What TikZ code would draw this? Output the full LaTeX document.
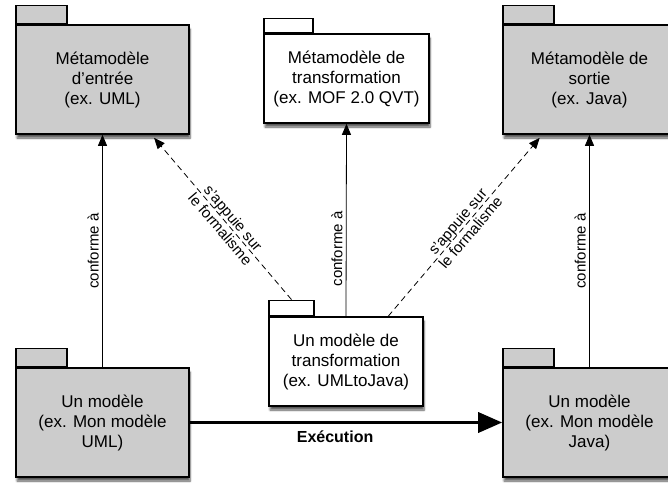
\documentclass[tikz,border=0pt]{standalone}
\usepackage{fontspec}
\setmainfont{Liberation Sans}
\usetikzlibrary{arrows.meta,shadows.blur}

\begin{document}
\begin{tikzpicture}[x=1pt, y=-1pt,
      pkg/.style={draw, line width=1.6pt, fill=black!20, align=center,
        minimum width=173pt, minimum height=109pt, inner sep=0pt,
        font=\fontsize{17}{20}\selectfont,
        blur shadow={shadow xshift=1pt, shadow yshift=-4pt,
          shadow blur steps=6, shadow opacity=65}},
      pkgwhite/.style={pkg, fill=white},
      tab/.style={draw, line width=1.6pt, anchor=south west, inner sep=0pt,
        minimum width=51pt, minimum height=18pt, fill=black!20},
      conf/.style={-{Triangle[length=11pt,width=9pt]}, line width=0.8pt},
      relie/.style={conf, dash pattern=on 6pt off 4pt},
      lbl/.style={font=\fontsize{15}{17}\selectfont, sloped, align=center},
      exec/.style={-{Triangle[length=24pt,width=20pt]}, line width=3.5pt}]
  \clip (0,0) rectangle (668,482);
  \node [pkg] (mmin) at (102.5,79.5) {Métamodèle\\d'entrée\\(ex. UML)};
  \node [pkgwhite, minimum width=165pt, minimum height=89pt] (mmtr) at (346.5,78.5)
        {Métamodèle de\\transformation\\(ex. MOF 2.0 QVT)};
  \node [pkg] (mmout) at (589.5,79.5) {Métamodèle de\\sortie\\(ex. Java)};
  \node [pkgwhite, minimum width=154pt, minimum height=89pt] (mtr) at (346,361.5)
        {Un modèle de\\transformation\\(ex. UMLtoJava)};
  \node [pkg] (min) at (102.5,422.5) {Un modèle\\(ex. Mon modèle\\UML)};
  \node [pkg] (mout) at (589.5,422.5) {Un modèle\\(ex. Mon modèle\\Java)};
  \node [tab] (mminT) at (mmin.north west) {};
  \node [tab, fill=white, minimum width=49pt, minimum height=14pt] (mmtrT) at (mmtr.north west) {};
  \node [tab] (mmoutT) at (mmout.north west) {};
  \node [tab, fill=white, minimum width=45pt, minimum height=15pt] (mtrT) at (mtr.north west) {};
  \node [tab] (minT) at (min.north west) {};
  \node [tab] (moutT) at (mout.north west) {};
  \draw [conf] (min.north) -- (mmin.south)
    node [lbl, above, pos=0.5] {conforme à};
  \draw [conf] (mtr.north) -- (mmtr.south)
    node [lbl, above, pos=0.35] {conforme à};
  \draw [conf] (mout.north) -- (mmout.south)
    node [lbl, above, pos=0.5] {conforme à};
  \draw [relie] (mtrT.north) -- ([yshift=-3pt]mmin.-47)
    node [lbl, pos=0.47] {s'appuie sur\\le formalisme};
  \draw [relie] (mtr.47) -- ([yshift=-3pt]mmout.-132)
    node [lbl, pos=0.5] {s'appuie sur\\le formalisme};
  \draw [exec] (min.east) -- (mout.west)
    node [below=3pt, pos=0.465, font=\fontsize{16}{18}\selectfont\bfseries] {Exécution};
\end{tikzpicture}
\end{document}
